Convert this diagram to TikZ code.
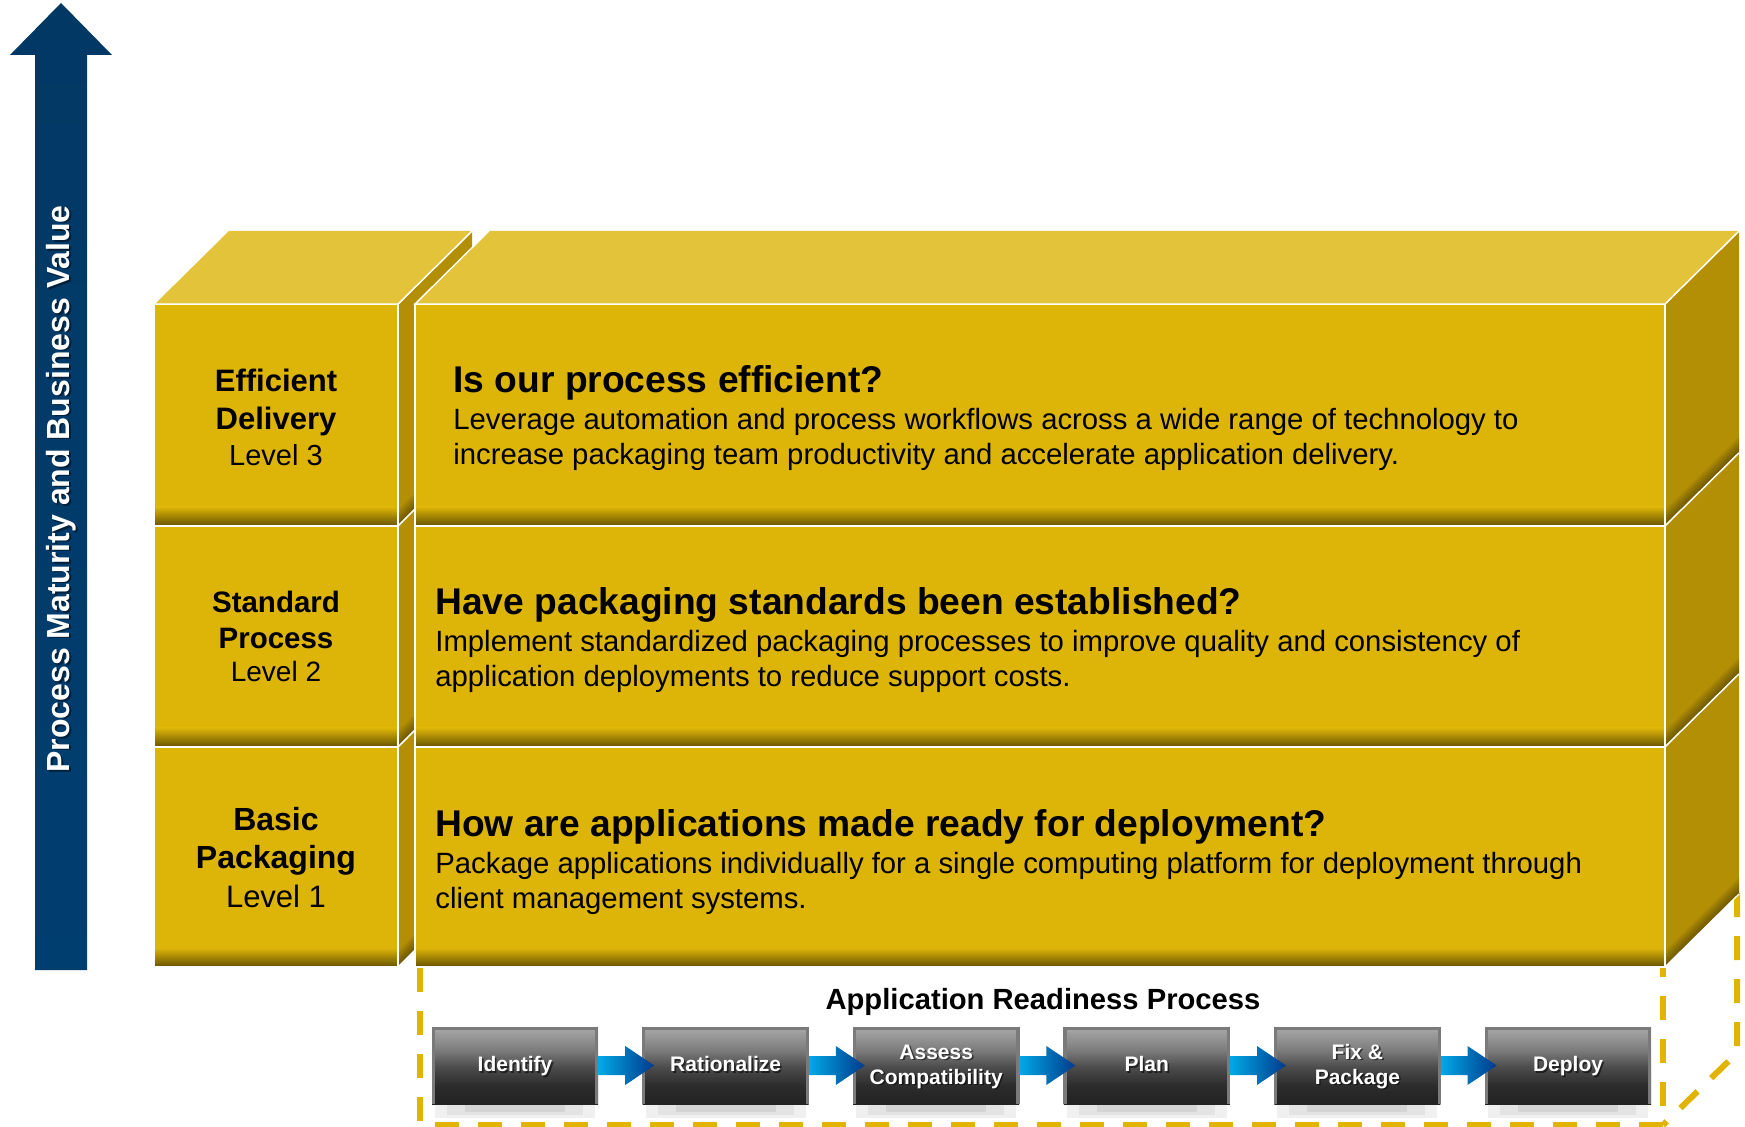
\documentclass[tikz,border=0pt]{standalone}
\usepackage{fontspec}
\setmainfont{Liberation Sans}
\usetikzlibrary{calc}
\definecolor{gfront}{HTML}{DDB408}
\definecolor{gtop}{HTML}{E2C33A}
\definecolor{gside}{HTML}{B38F05}
\definecolor{gdark}{HTML}{665200}
\definecolor{gdash}{HTML}{E0B400}
\definecolor{navyT}{HTML}{023864}
\definecolor{navyM}{HTML}{034B83}
\definecolor{navyB}{HTML}{013E70}
\definecolor{pb1}{HTML}{222222}
\definecolor{pb2}{HTML}{2C2C2C}
\definecolor{pb3}{HTML}{4C4C4C}
\definecolor{pb4}{HTML}{7C7C7C}
\definecolor{pb5}{HTML}{A9A9A9}
\definecolor{pborder}{HTML}{7A7A7A}
\definecolor{arcyan}{HTML}{00A9E6}
\definecolor{arblue}{HTML}{003A8C}
\pgfdeclareverticalshading{pboxshade}{100bp}{color(0bp)=(pb1); color(25bp)=(pb1); color(37bp)=(pb2); color(49bp)=(pb3); color(60bp)=(pb4); color(75bp)=(pb5); color(100bp)=(pb5)}
\begin{document}
\begin{tikzpicture}[x=0.5pt,y=-0.5pt,
  edge/.style={draw=white, line width=0.7pt},
  dashbox/.style={draw=gdash, line width=3pt, dash pattern=on 12pt off 9.5pt},
  lab/.style={anchor=base, inner sep=0},
  txt/.style={anchor=base west, inner sep=0},
  ttl/.style={txt, font=\bfseries\fontsize{18.6}{22}\selectfont},
  bdy/.style={txt, font=\fontsize{14.65}{17}\selectfont},
  pbox/.style={minimum width=83pt, minimum height=38.5pt, inner sep=0, shading=pboxshade},
  ptext/.style={font=\bfseries\fontsize{10.5}{12.5}\selectfont, text=white, align=center, inner sep=0},
  flow/.style={left color=arcyan, right color=arblue}]
\useasboundingbox (0,0) rectangle (1745,1127);

% vertical arrow
\shade[top color=navyT, middle color=navyM, bottom color=navyB]
  (35,970) -- (35,55) -- (10,55) -- (61,3) -- (112,55) -- (87,55) -- (87,970) -- cycle;
\node[rotate=90, font=\bfseries\fontsize{16}{19}\selectfont, text=black, opacity=0.45] (vshadow) at (63,490.5) {Process Maturity and Business Value};
\node[rotate=90, font=\bfseries\fontsize{16}{19}\selectfont, text=white] (vtext) at (61,489) {Process Maturity and Business Value};

% dashed outline of the readiness process
\draw[dashbox] (420,968) -- (420,1125) -- (1663,1125) -- (1663,968);
\draw[dashbox] (1737,893) -- (1737,1053) -- (1663,1125);

% left column
\foreach \yt/\yb in {304/526,526/747,747/967}{
  \fill[gside] (398,\yt) -- (472,\yt-73) -- (472,\yb-73) -- (398,\yb) -- cycle;
  \foreach \k in {1,...,7}{
    \fill[black, opacity=0.06] (398,\yb) -- (398,\yb-2.3*\k) -- (472,\yb-73-2.3*\k) -- (472,\yb-73) -- cycle;
  }
  \draw[edge] (398,\yt) -- (472,\yt-73);
  \draw[edge] (398,\yb) -- (472,\yb-73);
  \fill[gfront] (155,\yt) rectangle (398,\yb);
  \shade[top color=gfront, bottom color=gdark] (155,\yb-19) rectangle (398,\yb);
  \draw[edge] (155,\yt) -- (398,\yt) -- (398,\yb) -- (155,\yb);
}
\fill[gtop] (155,304) -- (229,231) -- (472,231) -- (398,304) -- cycle;
\draw[edge] (155,304) -- (398,304) -- (472,231);

% right column
\foreach \yt/\yb in {304/526,526/747,747/967}{
  \fill[gside] (1665,\yt) -- (1739,\yt-73) -- (1739,\yb-73) -- (1665,\yb) -- cycle;
  \foreach \k in {1,...,7}{
    \fill[black, opacity=0.06] (1665,\yb) -- (1665,\yb-2.3*\k) -- (1739,\yb-73-2.3*\k) -- (1739,\yb-73) -- cycle;
  }
  \draw[edge] (1665,\yt) -- (1739,\yt-73);
  \draw[edge] (1665,\yb) -- (1739,\yb-73);
  \fill[gfront] (415,\yt) rectangle (1665,\yb);
  \shade[top color=gfront, bottom color=gdark] (415,\yb-19) rectangle (1665,\yb);
  \draw[edge] (415,\yb) -- (415,\yt) -- (1665,\yt) -- (1665,\yb) -- (415,\yb);
}
\fill[gtop] (415,304) -- (489,231) -- (1739,231) -- (1665,304) -- cycle;
\draw[edge] (489,231) -- (415,304) -- (1665,304) -- (1739,231);

% level labels
\node[lab, font=\bfseries\fontsize{15.5}{18}\selectfont] (l3a) at (276,392) {Efficient};
\node[lab, font=\bfseries\fontsize{15.5}{18}\selectfont] (l3b) at (276,430) {Delivery};
\node[lab, font=\fontsize{14.5}{17}\selectfont] (l3c) at (276,466) {Level 3};
\node[lab, font=\bfseries\fontsize{14.75}{17}\selectfont] (l2a) at (276,613) {Standard};
\node[lab, font=\bfseries\fontsize{14.75}{17}\selectfont] (l2b) at (276,649) {Process};
\node[lab, font=\fontsize{14}{17}\selectfont] (l2c) at (276,682) {Level 2};
\node[lab, font=\bfseries\fontsize{16}{19}\selectfont] (l1a) at (276,830) {Basic};
\node[lab, font=\bfseries\fontsize{16}{19}\selectfont] (l1b) at (276,868) {Packaging};
\node[lab, font=\fontsize{15.5}{18}\selectfont] (l1c) at (276,907) {Level 1};

% level descriptions
\node[ttl] (q3) at (453,393) {Is our process efficient?};
\node[bdy] (d3a) at (453,430) {Leverage automation and process workflows across a wide range of technology to};
\node[bdy] (d3b) at (453,465) {increase packaging team productivity and accelerate application delivery.};
\node[ttl] (q2) at (435,615) {Have packaging standards been established?};
\node[bdy] (d2a) at (435,652) {Implement standardized packaging processes to improve quality and consistency of};
\node[bdy] (d2b) at (435,687) {application deployments to reduce support costs.};
\node[ttl] (q1) at (435,836) {How are applications made ready for deployment?};
\node[bdy] (d1a) at (435,873) {Package applications individually for a single computing platform for deployment through};
\node[bdy] (d1b) at (435,908) {client management systems.};

% readiness process
\node[anchor=base, inner sep=0, font=\bfseries\fontsize{14.6}{17}\selectfont] (ptitle) at (1043,1009) {Application Readiness Process};

\foreach \i/\t in {0/{\strut Identify}, 1/{\strut Rationalize}, 2/{\strut Assess\\\strut Compatibility}, 3/{\strut Plan}, 4/{\strut Fix \&\\\strut Package}, 5/{\strut Deploy}}{
  \fill[black!6] ({515+210.6*\i-80},1104) rectangle ({515+210.6*\i+80},1118);
  \fill[black!11] ({515+210.6*\i-68},1104) rectangle ({515+210.6*\i+68},1115);
  \fill[black!17] ({515+210.6*\i-50},1104) rectangle ({515+210.6*\i+50},1112);
  \node[pbox] (b\i) at ({515+210.6*\i},1065.5) {};
  \draw[pborder, line width=1.6pt] ($(b\i.south west)+(1.6,0)$) -- ($(b\i.north west)+(1.6,1.6)$) -- ($(b\i.north east)+(-1.6,1.6)$) -- ($(b\i.south east)+(-1.6,0)$);
  \node[ptext, text=black, opacity=0.55] (s\i) at ($(b\i.center)+(1.6,2.6)$) {\t};
  \node[ptext] (t\i) at ($(b\i.center)+(0,1)$) {\t};
}
\foreach \i [evaluate=\i as \j using int(\i+1)] in {0,...,4}{
  \shade[flow] ($(b\i.east)+(0,-9.5)$) -- ($(b\j.west)+(-17,-9.5)$) -- ($(b\j.west)+(-17,-19.5)$)
    -- ($(b\j.west)+(12,0)$) -- ($(b\j.west)+(-17,19.5)$) -- ($(b\j.west)+(-17,9.5)$)
    -- ($(b\i.east)+(0,9.5)$) -- cycle;
}
\end{tikzpicture}
\end{document}
